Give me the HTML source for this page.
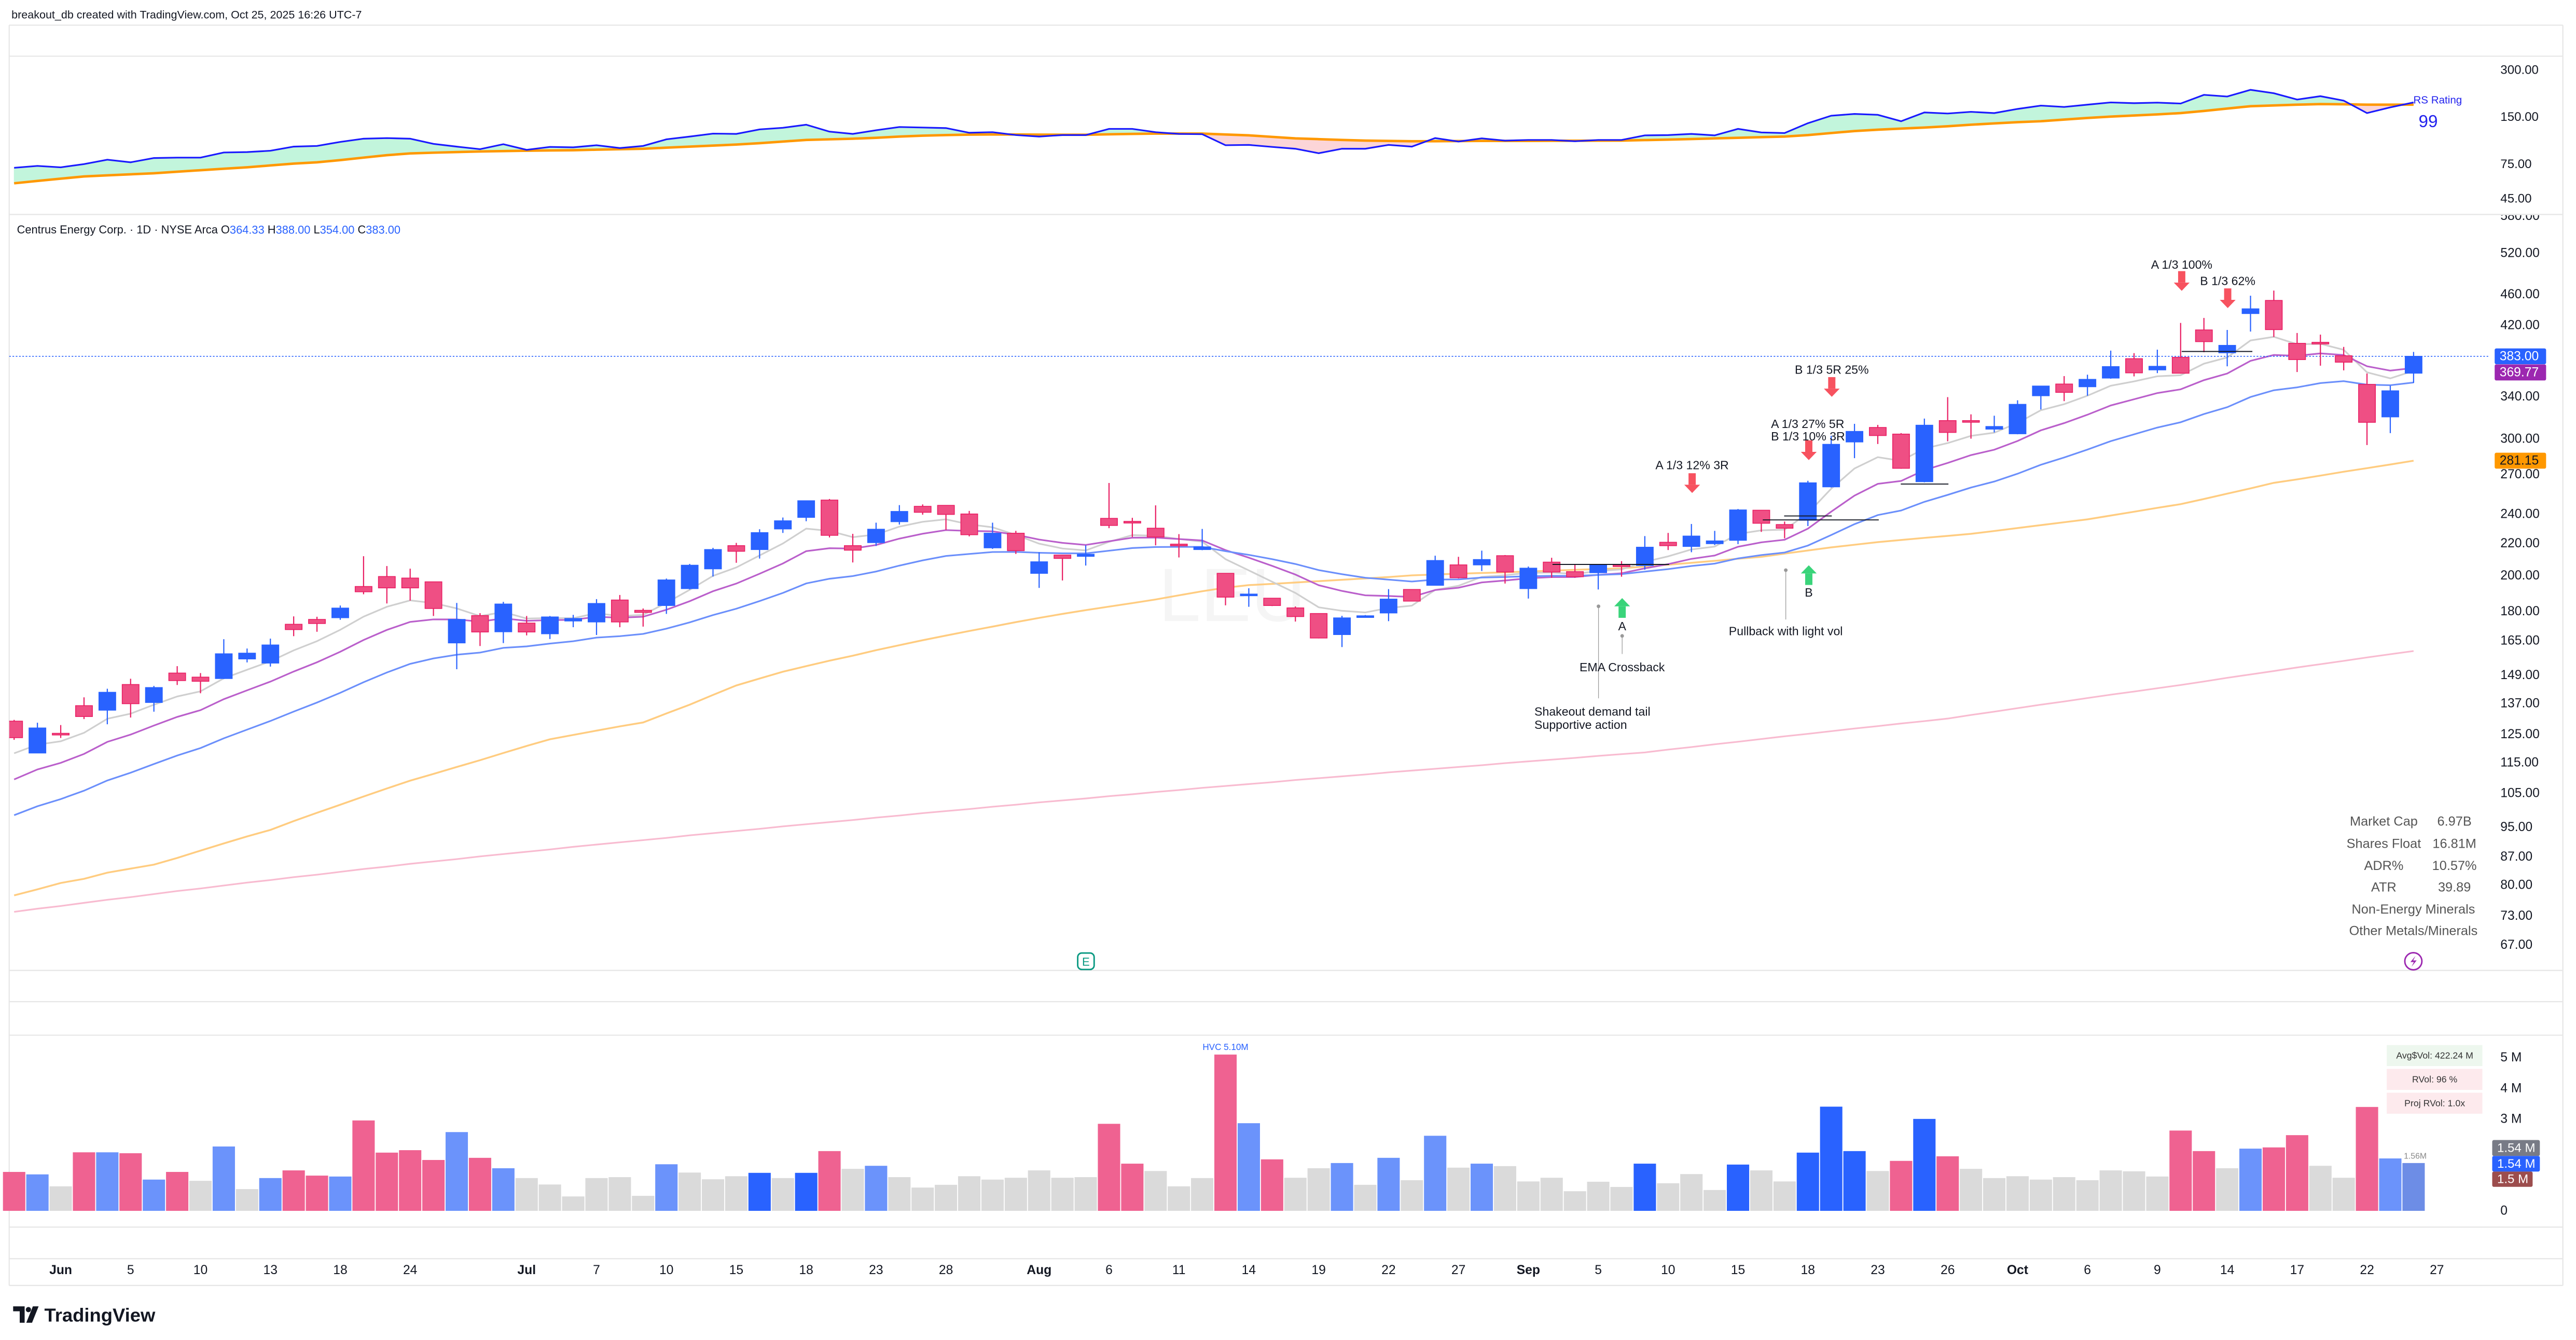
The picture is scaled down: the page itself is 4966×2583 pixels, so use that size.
<!DOCTYPE html>
<html><head><meta charset="utf-8">
<style>
html,body{margin:0;padding:0;background:#fff;}
svg{display:block;font-family:"Liberation Sans",Arial,sans-serif;}
</style></head>
<body>
<svg id="chart" width="4966" height="2583" viewBox="0 0 1568 815.5" preserveAspectRatio="none" xmlns="http://www.w3.org/2000/svg">
<defs>
<clipPath id="priceClip"><rect x="5.6" y="131" width="1509" height="459.6"/></clipPath>
<clipPath id="axisClip"><rect x="1516" y="131" width="44" height="459.6"/></clipPath>
</defs>
<rect x="0" y="0" width="1568" height="815.5" fill="#fff"/>
<text x="7" y="9" font-size="6.8" fill="#131722" dominant-baseline="central">breakout_db created with TradingView.com, Oct 25, 2025 16:26 UTC-7</text>
<g stroke="#e6e6e6" stroke-width="0.7" fill="none">
<line x1="5.6" y1="15.3" x2="1560" y2="15.3"/>
<line x1="5.6" y1="34.2" x2="1560" y2="34.2"/>
<line x1="5.6" y1="130.5" x2="1560" y2="130.5"/>
<line x1="5.6" y1="590.6" x2="1560" y2="590.6"/>
<line x1="5.6" y1="609.6" x2="1560" y2="609.6"/>
<line x1="5.6" y1="630" x2="1560" y2="630"/>
<line x1="5.6" y1="746.8" x2="1560" y2="746.8"/>
<line x1="5.6" y1="766" x2="1560" y2="766"/>
<line x1="5.6" y1="782.3" x2="1560" y2="782.3"/>
<line x1="5.6" y1="15.3" x2="5.6" y2="782.3"/>
<line x1="1560" y1="15.3" x2="1560" y2="782.3"/>
</g>
<text x="750" y="362" font-size="46" fill="#f5f5f5" text-anchor="middle" dominant-baseline="central">LEU</text>
<g id="rsPane"></g>
<g id="pricePane" clip-path="url(#priceClip)"></g>
<g id="annot"></g>
<g id="volPane"></g>
<g id="axes"></g>
<text x="10.3" y="139.7" font-size="6.9" fill="#131722" dominant-baseline="central">Centrus Energy Corp. · 1D · NYSE Arca  O<tspan fill="#2962ff">364.33</tspan> H<tspan fill="#2962ff">388.00</tspan> L<tspan fill="#2962ff">354.00</tspan> C<tspan fill="#2962ff">383.00</tspan></text>
<g font-size="8" fill="#555" text-anchor="middle" dominant-baseline="central">
<text x="1451" y="500">Market Cap</text><text x="1494" y="500">6.97B</text>
<text x="1451" y="513.5">Shares Float</text><text x="1494" y="513.5">16.81M</text>
<text x="1451" y="527">ADR%</text><text x="1494" y="527">10.57%</text>
<text x="1451" y="540">ATR</text><text x="1494" y="540">39.89</text>
<text x="1469" y="553.5">Non-Energy Minerals</text>
<text x="1469" y="566.5">Other Metals/Minerals</text>
</g>
<g>
<circle cx="1469" cy="585" r="5.2" fill="#fff" stroke="#9c27b0" stroke-width="0.9"/>
<path d="M1470.3 581.8 L1467.2 585.5 L1469.3 585.5 L1467.9 588.3 L1471 584.5 L1468.9 584.5 Z" fill="#9c27b0"/>
</g>
<g>
<rect x="656" y="580" width="10" height="10" rx="2.5" fill="#fff" stroke="#089981" stroke-width="0.9"/>
<text x="661" y="585.3" font-size="7" fill="#089981" text-anchor="middle" dominant-baseline="central">E</text>
</g>
<g font-size="5.6" fill="#333" text-anchor="middle" dominant-baseline="central">
<rect x="1452.8" y="636" width="58.2" height="12.8" fill="#edf7ee"/><text x="1482" y="642.4">Avg$Vol: 422.24 M</text>
<rect x="1452.8" y="650.5" width="58.2" height="12.8" fill="#fdeaed"/><text x="1482" y="656.9">RVol: 96 %</text>
<rect x="1452.8" y="665" width="58.2" height="12.8" fill="#fdeaed"/><text x="1482" y="671.4">Proj RVol: 1.0x</text>
</g>
<g>
<path d="M8 795 H15 V805 H12 V798 H8 Z" fill="#131722"/>
<circle cx="17.3" cy="797" r="1.6" fill="#131722"/>
<path d="M20 795 H23.5 L19.5 805 H16 Z" fill="#131722"/>
<text x="27" y="800.3" font-size="11.5" font-weight="bold" fill="#131722" dominant-baseline="central">TradingView</text>
</g>
</svg>
<script>
const opens=[130.0,118.3,125.4,136.1,134.3,144.9,137.4,149.9,148.1,147.5,156.3,154.4,173.2,175.7,176.6,193.7,199.5,198.6,196.4,163.9,177.7,169.4,173.8,168.4,174.9,174.4,186.1,180.5,183.1,192.5,204.1,218.6,216.1,229.7,237.7,250.2,218.6,220.6,234.7,245.6,246.3,240.1,217.2,226.8,201.4,212.6,211.8,237,234.9,230.2,219.6,216.1,201.4,188.9,187.1,181.8,178.8,168,177.3,179.1,192,194.4,206.5,206.5,212.2,192.5,208.2,202.4,201.8,206.5,206.1,220.8,218.1,219.9,222.1,242.8,232.7,235.7,260.2,297.2,310.2,304.2,264.2,316.6,316.6,308.7,304.5,340.8,352.8,350,359.1,380.3,367.9,381.8,414.1,387,434.7,451.9,398,399.2,383.6,352.4,320.1,364.33];
const highs=[130.5,129.4,128.5,139.5,143.1,147.4,144.3,153.0,149.9,165.7,161.2,166.0,177.3,177.1,183.1,211.9,205.8,204.2,196.4,184.5,179.0,185.1,177.5,177.5,178.1,186.6,188.9,181.5,198.3,207.1,217.2,220.4,229.5,237.6,249.7,251,226.4,234,246.5,247,246.3,242.3,234,228.4,214.4,212.6,218.8,263.2,237.4,246.3,226.2,229.7,201.4,192.7,187.1,182.6,178.8,177.6,178,192.2,192.2,212.2,211.5,215.4,212.6,205.5,210.9,206.9,206.9,208.8,224.9,227,233.1,228.4,243.7,242.8,234.8,264.9,302.6,313.6,312.6,305.1,318.5,339.4,322.5,321.2,336.2,351,361.2,362.7,389.5,386.6,390.6,422.8,429.1,414.1,458.3,465.3,410.4,408.4,393.8,364,351.1,388];
const lows=[123.0,118.2,123.7,130.8,128.8,131.4,133.7,144.7,141.2,147.3,154.7,152.8,167.2,169.4,175.5,189.3,184.2,185.8,177.5,151.6,162.4,163.8,167.6,165.8,171.7,167.8,171.7,172,178.6,192,199.5,207.8,210.4,227,235,224,208,218.4,232.7,239.6,229,224.7,216.5,213.3,192.9,197.2,206.1,230.2,224.3,218.8,211.1,215.7,183.2,182.4,182.8,174.6,166.1,161.9,177,174.8,185.3,194.2,198.4,202.8,195.4,186.9,198.8,198.8,192,199.4,203.6,215.8,214.4,219,219.6,227.7,223.4,231.7,259.7,283.3,295.4,274.5,263.7,297.8,300.1,305.7,304,327.2,335.4,340.8,358.4,360.9,364.4,363.8,387.6,371.8,412.1,405.6,365.6,372.5,367.4,294.5,305.1,354];
const closes=[123.8,127.4,124.9,131.8,141.6,136.9,143.6,146.6,146.3,158.7,159.0,162.9,170.5,173.6,181.7,190.7,192.9,192.9,181.5,175.7,169.3,183.9,169.3,177.0,176.2,184.2,174.4,179.4,197.5,206.3,216.1,215,227.2,235.3,249.7,225.4,215.7,229.5,241.9,241.3,239.8,225.8,226.8,215.4,208.4,210.5,213.1,232.1,234.5,224.3,218.5,217.8,187.7,189.4,183.1,177.2,166.3,176.5,177.6,186.6,185.5,209.2,198.8,209.8,202.2,204.5,202.2,199.4,206.3,205.7,217.6,218.6,224.9,221.7,243,233.6,230.2,263.3,295.1,306.6,302.9,274.9,312.3,305.7,315.4,311.1,332.2,350.7,344.2,357.7,371.5,364.7,371.8,364.3,400,395.6,440.8,414.5,379.3,398.4,376.4,315,345.8,383];
const volumes=[1.27,1.19,0.80,1.91,1.91,1.88,1.02,1.27,0.98,2.10,0.71,1.07,1.32,1.15,1.12,2.95,1.90,1.98,1.66,2.57,1.73,1.39,1.07,0.86,0.47,1.07,1.10,0.49,1.52,1.25,1.03,1.13,1.24,1.07,1.24,1.95,1.37,1.47,1.10,0.76,0.85,1.13,1.02,1.08,1.32,1.08,1.10,2.84,1.54,1.30,0.80,1.07,5.10,2.86,1.68,1.08,1.39,1.56,0.85,1.73,1.00,2.45,1.41,1.54,1.46,0.96,1.08,0.64,0.95,0.78,1.54,0.90,1.20,0.68,1.51,1.32,0.96,1.90,3.40,1.95,1.30,1.63,3.00,1.78,1.37,1.07,1.13,1.02,1.10,1.00,1.32,1.29,1.12,2.62,1.95,1.39,2.03,2.07,2.47,1.47,1.08,3.39,1.71,1.56];
const volClass="plgplplpgl"+"glpplppppl"+"plgggggglg"+"ggdgdpglgg"+"gggggggppg"+"ggplpgglgl"+"glglgggggg"+"dgggdggddd"+"gpdpgggggg"+"gggppglppg"+"gplm";
const rsValues=[71,73,71.5,75,80,77,82,82.5,82.5,89,89.5,91.3,97,98,104,109,110,109,101,97,93.4,100.5,92.5,96.6,96,99,95,98,108,112.5,117.5,117,125,128,134,121,117,123.5,129.5,128.5,127.5,119,120,115,112.5,115,115,126,126,120,117,116.5,99,99.5,96.6,94,88,94,94,99.5,97,110,104.5,109.5,106,107,107,105,107,107,114.5,115,117,114.5,126,119.5,118.5,137,153,157,155,141,160.5,158,162,159,169,177.5,174,180,186,184,185.5,183,208,203,224,213,194,204,191,159,173,186];
const rsMA=[56.5,58.5,60.5,62.5,63.5,64.5,65.5,67,68.5,70,71.5,73.5,75.5,77,79.5,82.5,85.5,87.7,88.7,89.5,90.3,90.8,91.3,91.7,92,92.7,93.4,94,95.5,97,98.5,100,102,104.5,107,108,109,110.5,112.5,114,115,115.8,116,116,115.8,115.6,115.5,116.3,117,117.5,117.5,117.5,116,114.5,112,109.5,108.3,107,106,105.5,105,105,105.3,105.5,105.5,105.5,105.7,105.8,105.9,106,106.8,107.6,108.5,109.5,110.5,111.5,112.5,115,118.5,122,124.5,126.5,128.5,131,134,136.5,139,141,144.5,148,151,153.5,156,159,164,170,176,178,180,181.5,181,180,180,180];
const sma50=[77.6,79,80.5,81.5,83,84,85,86.7,88.6,90.5,92.4,94.2,96.7,99.1,101.5,104,106.5,109,111.2,113.5,115.8,118.3,120.8,123.2,124.8,126.4,128,129.5,133,136.5,140.5,144.5,147.5,150.5,153,155.5,157.8,160.4,162.8,165.2,167.5,169.8,172,174.3,176.5,178.6,180.6,182.5,184.4,186.4,188.7,191,193,194.5,195.2,196,196.8,197.6,198.4,199.2,200.2,200.7,201.2,201.6,202,202.5,203,203.5,204,204.4,205.5,206.6,207.8,209,210.3,211.5,213.5,215.5,217.5,219.2,220.9,222.3,223.7,225,226.4,228.3,230.3,232.3,234.3,236.3,239,241.7,244.5,247.2,251,255,259,263.3,266,269,272.1,275,278,281.15];
const sma200=[73.9,74.6,75.2,75.9,76.6,77.2,77.9,78.6,79.2,79.9,80.6,81.2,81.9,82.5,83.2,83.9,84.5,85.2,85.8,86.4,87.1,87.7,88.3,88.9,89.6,90.2,90.8,91.4,92,92.7,93.3,93.9,94.5,95.2,95.8,96.4,97,97.7,98.3,99,99.6,100.2,100.9,101.5,102.2,102.8,103.4,104.1,104.7,105.4,106,106.7,107.3,107.9,108.5,109.2,109.8,110.4,111,111.7,112.3,112.9,113.5,114.1,114.8,115.4,116,116.6,117.3,117.9,118.5,119.5,120.4,121.4,122.3,123.3,124.3,125.2,126.2,127.2,128.1,129.1,130,131,132.4,133.7,135.1,136.5,137.8,139.2,140.6,141.9,143.3,144.7,146.2,147.8,149.3,150.8,152.4,153.9,155.4,157,158.5,160];
const emaPeriods=[5,10,21];
const emaSeeds=[118.2,109.4,98.4];
const priceTicks=[580,520,460,420,340,300,270,240,220,200,180,165,149,137,125,115,105,95,87,80,73,67];
const rsTicks=[300,150,75,45];
const volTicks=[5,4,3];
const volTickLabels=["5 M","4 M","3 M"];
const dateIdx=[2,5,8,11,14,17,22,25,28,31,34,37,40,44,47,50,53,56,59,62,65,68,71,74,77,80,83,86,89,92,95,98,101,104];
const dateLabels=["Jun","5","10","13","18","24","Jul","7","10","15","18","23","28","Aug","6","11","14","19","22","27","Sep","5","10","15","18","23","26","Oct","6","9","14","17","22","27"];
const lastClose=383.00;
const ema10Last=369.77;
const sma50Last=281.15;

const NS="http://www.w3.org/2000/svg";
function mk(tag,attrs,parent){const e=document.createElementNS(NS,tag);for(const k in attrs)e.setAttribute(k,attrs[k]);parent.appendChild(e);return e;}
const xOf=i=>8.6+14.18*i;
const yP=p=>154+(Math.log(520)-Math.log(p))*205.5;
const yR=v=>42.6+(Math.log(300)-Math.log(v))*41.3;
const yV=v=>736.9-v*18.65;
const rsPane=document.getElementById('rsPane');
const pricePane=document.getElementById('pricePane');
const volPane=document.getElementById('volPane');
const axes=document.getElementById('axes');
const annot=document.getElementById('annot');

const nRs=Math.min(rsValues.length,rsMA.length);
for(let i=0;i<nRs-1;i++){
  const up=(rsValues[i]+rsValues[i+1])>=(rsMA[i]+rsMA[i+1]);
  const pts=[[xOf(i),yR(rsValues[i])],[xOf(i+1),yR(rsValues[i+1])],[xOf(i+1),yR(rsMA[i+1])],[xOf(i),yR(rsMA[i])]].map(p=>p.join(',')).join(' ');
  const f=mk('polygon',{points:pts,fill:up?'#c2f5dc':'#fcd5d8',stroke:up?'#c2f5dc':'#fcd5d8','stroke-width':0.3},rsPane);
  
  
}
function linePath(arr,fy){return arr.map((v,i)=>(i?'L':'M')+xOf(i).toFixed(2)+' '+fy(v).toFixed(2)).join(' ');}
const rsMaLine=mk('path',{d:linePath(rsMA,yR),fill:'none',stroke:'#ff9800','stroke-width':1.5},rsPane);


const rsLine=mk('path',{d:linePath(rsValues,yR),fill:'none',stroke:'#1a1aff','stroke-width':1},rsPane);


const rsLbl=mk('text',{x:1469,y:61,'font-size':6.5,fill:'#2222ee','dominant-baseline':'central'},rsPane);
rsLbl.textContent='RS Rating';


const rsNum=mk('text',{x:1478,y:74,'font-size':10.5,fill:'#2222ee','text-anchor':'middle','dominant-baseline':'central'},rsPane);
rsNum.textContent='99';


rsTicks.forEach(t=>{
  const tx=mk('text',{x:1522,y:yR(t),'font-size':7.6,fill:'#131722','dominant-baseline':'central'},axes);
  tx.textContent=t.toFixed(2);
  
  
});

function ema(period,seed){const a=2/(period+1);const out=[];let e=seed;closes.forEach((c,i)=>{if(i>0)e=e+a*(c-e);out.push(e);});return out;}
const l200=mk('path',{d:linePath(sma200,yP),fill:'none',stroke:'#f8bbd0','stroke-width':1},pricePane);


const l50=mk('path',{d:linePath(sma50,yP),fill:'none',stroke:'#ffcc80','stroke-width':1.1},pricePane);


const emaColors=['#cfcfcf','#ba5fcb','#6b8ffb'];
const emaNames=['ema-5-line','ema-10-line','ema-21-line'];
emaPeriods.forEach((p,k)=>{
  const vals=ema(p,emaSeeds[k]);
  const l=mk('path',{d:linePath(vals,yP),fill:'none',stroke:emaColors[k],'stroke-width':1},pricePane);
  
  
});
const dl=mk('line',{x1:5.6,x2:1515,y1:yP(lastClose),y2:yP(lastClose),stroke:'#2962ff','stroke-width':0.5,'stroke-dasharray':'1 1'},pricePane);



closes.forEach((c,i)=>{
  const o=opens[i],up=c>=o,x=xOf(i);
  const col=up?'#2962ff':'#e91e63';
  const fill=up?'#2962ff':'#ef4f84';
  const w=mk('line',{x1:x,x2:x,y1:yP(highs[i]),y2:yP(lows[i]),stroke:col,'stroke-width':0.7},pricePane);
  
  
  const y1=yP(Math.max(o,c)),y2=yP(Math.min(o,c));
  const b=mk('rect',{x:x-5.1,y:y1,width:10.2,height:Math.max(1,y2-y1),fill:fill,stroke:col,'stroke-width':0.5},pricePane);
  
  
});

const pAx=mk('g',{'clip-path':'url(#axisClip)'},axes);


priceTicks.forEach(t=>{
  const tx=mk('text',{x:1522,y:yP(t),'font-size':7.8,fill:'#131722','dominant-baseline':'central'},pAx);
  tx.textContent=t.toFixed(2);
  
  
});
function badge(val,color,txtColor,name,parent,yc,w,h){
  const g=mk('g',{},parent);
  
  
  mk('rect',{x:1518.5,y:yc-h/2,width:w,height:h,rx:1,fill:color},g);
  const t=mk('text',{x:1521.5,y:yc,'font-size':7.8,fill:txtColor,'dominant-baseline':'central'},g);
  t.textContent=val;
}
badge(lastClose.toFixed(2),'#2962ff','#fff','last-price-badge',axes,yP(lastClose),31.3,9.6);
badge(ema10Last.toFixed(2),'#9c27b0','#fff','ema-10-badge',axes,yP(lastClose)+9.8,31.3,9.8);
badge(sma50Last.toFixed(2),'#ff9800','#131722','sma-50-badge',axes,yP(sma50Last),31.3,9.7);

const volColors={p:'#ef6291',l:'#6b93fb',d:'#2962ff',g:'#dadada',m:'#6d8de6'};
volumes.forEach((v,i)=>{
  const r=mk('rect',{x:xOf(i)-6.8,y:yV(v),width:13.6,height:yV(0)-yV(v),fill:volColors[volClass[i]]||'#dadada'},volPane);
  
  
});
let maxI=0;volumes.forEach((v,i)=>{if(v>volumes[maxI])maxI=i;});
const hvc=mk('text',{x:xOf(maxI),y:yV(volumes[maxI])-4.5,'font-size':5.4,fill:'#2962ff','text-anchor':'middle','dominant-baseline':'central'},volPane);
hvc.textContent='HVC '+volumes[maxI].toFixed(2)+'M';


const lastV=volumes[volumes.length-1];
const lv=mk('text',{x:xOf(volumes.length-1)+1,y:yV(lastV)-4,'font-size':5,fill:'#888','text-anchor':'middle','dominant-baseline':'central'},volPane);
lv.textContent=lastV.toFixed(2)+'M';


volTicks.forEach((t,k)=>{
  const tx=mk('text',{x:1522,y:yV(t),'font-size':7.8,fill:'#131722','dominant-baseline':'central'},axes);
  tx.textContent=volTickLabels[k];
  
  
});
const v0=mk('text',{x:1522,y:yV(0),'font-size':7.8,fill:'#131722','dominant-baseline':'central'},axes);
v0.textContent='0';


const vb1=mk('g',{},axes);


mk('rect',{x:1517,y:693.8,width:29,height:9.7,rx:1,fill:'#787b86'},vb1);
mk('rect',{x:1517,y:703.5,width:29,height:9.5,rx:1,fill:'#2962ff'},vb1);
mk('rect',{x:1517,y:713,width:24.6,height:9.3,rx:1,fill:'#9c4d4d'},vb1);
[['1.54 M',698.7],['1.54 M',708.3],['1.5 M',717.7]].forEach(a=>{const t=mk('text',{x:1520,y:a[1],'font-size':7.6,fill:'#fff','dominant-baseline':'central'},vb1);t.textContent=a[0];});

dateIdx.forEach((d,k)=>{
  const isMonth=isNaN(parseInt(dateLabels[k]));
  const tx=mk('text',{x:xOf(d),y:773,'font-size':7.8,fill:'#131722','text-anchor':'middle','dominant-baseline':'central','font-weight':isMonth?'bold':'normal'},axes);
  tx.textContent=dateLabels[k];
  
  
});

function txt(s,x,y,anchor,name){const t=mk('text',{x:x,y:y,'font-size':7.3,fill:'#131722','text-anchor':anchor||'middle','dominant-baseline':'central'},annot);t.textContent=s;return t;}
function arrow(x,y0,y1,down,color,name){
  const g=mk('g',{},annot);
  
  
  if(down){mk('rect',{x:x-2.2,y:y0,width:4.4,height:(y1-y0)-5,fill:color},g);mk('polygon',{points:(x-4.8)+','+(y1-5)+' '+(x+4.8)+','+(y1-5)+' '+x+','+y1,fill:color},g);}
  else{mk('rect',{x:x-2.2,y:y0+5,width:4.4,height:(y1-y0)-5,fill:color},g);mk('polygon',{points:(x-4.8)+','+(y0+5)+' '+(x+4.8)+','+(y0+5)+' '+x+','+y0,fill:color},g);}
}
function hline(x1,x2,y){const l=mk('line',{x1:x1,x2:x2,y1:y,y2:y,stroke:'#131722','stroke-width':0.6},annot);}
function pin(x,yd,y2){const c=mk('circle',{cx:x,cy:yd,r:1.1,fill:'#999'},annot);const l=mk('line',{x1:x,x2:x,y1:yd,y2:y2,stroke:'#999','stroke-width':0.4},annot);}
const red='#f7525f',green='#3ad47a';
hline(945,1016,343.5);hline(1073,1143.6,316.4);hline(1086,1115,314);hline(1157,1186,294.6);hline(1328,1371,213.9);
txt('A 1/3 12% 3R',1030,283,'middle','sell-note-a1');
arrow(1030,288,300,true,red,'sell-arrow-a1');
txt('A 1/3 27% 5R',1078,258,'start','sell-note-a2');
txt('B 1/3 10% 3R',1078,265.5,'start','sell-note-b1');
arrow(1101,268,280,true,red,'sell-arrow-b1');
txt('B 1/3 5R 25%',1115,225,'middle','sell-note-b2');
arrow(1115,229.5,241.5,true,red,'sell-arrow-b2');
txt('A 1/3 100%',1328,161,'middle','sell-note-a3');
arrow(1328,165,177,true,red,'sell-arrow-a3');
txt('B 1/3 62%',1356,171,'middle','sell-note-b3');
arrow(1356,175.5,187.5,true,red,'sell-arrow-b3');
arrow(987.4,364,376,false,green,'buy-arrow-a');
txt('A',987.4,381,'middle','buy-label-a');
arrow(1101,344,356,false,green,'buy-arrow-b');
txt('B',1101,360.5,'middle','buy-label-b');
pin(973,369,425);
txt('Shakeout demand tail',934,433,'start','note-shakeout');
txt('Supportive action',934,441,'start','note-supportive');
pin(987.4,387,398);
txt('EMA Crossback',987.4,406,'middle','note-ema-crossback');
pin(1087,347,377);
txt('Pullback with light vol',1087,384,'middle','note-pullback');
</script>
</body></html>
